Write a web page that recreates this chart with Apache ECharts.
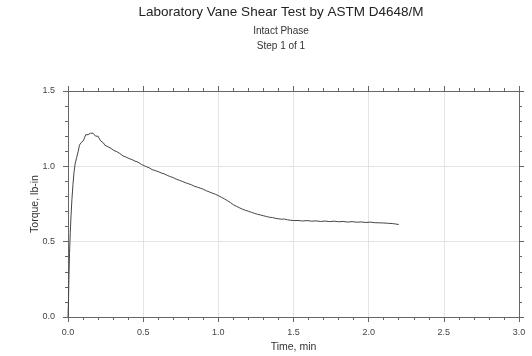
<!DOCTYPE html>
<html>
<head>
<meta charset="utf-8">
<script src="https://cdn.jsdelivr.net/npm/echarts@6/dist/echarts.min.js"></script>
<style>html,body{margin:0;padding:0;background:#fff;}#c{width:532px;height:356px;}</style>
</head>
<body>
<div id="c"></div>
<script>
const titleText = 'Laboratory Vane Shear Test by ASTM D4648/M';
const subtitle1 = 'Intact Phase';
const subtitle2 = 'Step 1 of 1';
const xName = 'Time, min';
const yName = 'Torque, lb-in';
const timeMin = [0.000,0.003,0.006,0.010,0.015,0.020,0.026,0.033,0.040,0.048,0.058,0.068,0.076,0.085,0.094,0.102,0.110,0.118,0.125,0.133,0.141,0.150,0.158,0.166,0.175,0.184,0.192,0.200,0.208,0.216,0.222,0.228,0.236,0.245,0.255,0.265,0.275,0.285,0.295,0.305,0.315,0.325,0.335,0.345,0.355,0.365,0.375,0.385,0.395,0.405,0.415,0.425,0.435,0.445,0.455,0.465,0.475,0.49,0.50,0.52,0.54,0.56,0.58,0.60,0.62,0.64,0.66,0.68,0.70,0.72,0.74,0.76,0.78,0.80,0.82,0.84,0.86,0.88,0.90,0.92,0.94,0.96,0.98,1.00,1.02,1.04,1.06,1.08,1.10,1.12,1.14,1.16,1.18,1.20,1.22,1.24,1.26,1.28,1.30,1.32,1.34,1.36,1.38,1.40,1.42,1.44,1.46,1.48,1.50,1.53,1.56,1.59,1.62,1.65,1.68,1.71,1.74,1.77,1.80,1.83,1.86,1.89,1.92,1.95,1.98,2.01,2.04,2.07,2.10,2.13,2.16,2.18,2.20];
const torque = [0.00,0.10,0.25,0.42,0.56,0.67,0.78,0.88,0.96,1.02,1.06,1.10,1.14,1.155,1.16,1.17,1.19,1.21,1.205,1.21,1.205,1.22,1.215,1.22,1.21,1.20,1.195,1.20,1.185,1.17,1.157,1.17,1.155,1.14,1.135,1.13,1.125,1.12,1.115,1.105,1.10,1.097,1.09,1.085,1.08,1.07,1.072,1.062,1.06,1.052,1.05,1.045,1.04,1.035,1.03,1.028,1.02,1.012,1.005,0.998,0.99,0.978,0.972,0.965,0.956,0.95,0.94,0.932,0.925,0.915,0.908,0.90,0.892,0.885,0.878,0.868,0.862,0.855,0.848,0.838,0.83,0.822,0.815,0.805,0.795,0.784,0.772,0.76,0.745,0.735,0.725,0.716,0.708,0.702,0.695,0.688,0.682,0.677,0.672,0.667,0.662,0.66,0.655,0.652,0.649,0.650,0.645,0.642,0.640,0.641,0.637,0.640,0.636,0.638,0.634,0.637,0.633,0.636,0.632,0.634,0.630,0.633,0.629,0.631,0.627,0.630,0.626,0.625,0.624,0.622,0.620,0.617,0.614];

const FONT = 'Liberation Sans, Arial, sans-serif';
const AX = '#666';
const fmt = v => v.toFixed(1);

function axis(pos, showLabel, name, nameGap, isY) {
  const a = {
    type: 'value', position: pos, min: 0, max: isY ? 1.5 : 3, interval: 0.5,
    axisLine: { show: true, onZero: false, lineStyle: { color: AX, width: 1 } },
    axisTick: { show: true, inside: false, length: 5, lineStyle: { color: AX } },
    minorTick: { show: true, splitNumber: 5, length: 3, lineStyle: { color: AX } },
    axisLabel: { show: showLabel, formatter: fmt, color: '#444', fontSize: 9, fontFamily: FONT, margin: isY ? 13 : 11 },
    splitLine: { show: showLabel, lineStyle: { color: '#e3e3e3', width: 1 } }
  };
  if (name) {
    a.name = name; a.nameLocation = 'middle'; a.nameGap = nameGap; a.nameMoveOverlap = false;
    a.nameTextStyle = { color: '#333', fontSize: 10.5, fontFamily: FONT };
  }
  return a;
}

const chart = echarts.init(document.getElementById('c'), null, { renderer: 'canvas' });
chart.setOption({
  animation: false,
  backgroundColor: '#fff',
  title: [
    { text: titleText, left: 281, top: 5, padding: 0, textAlign: 'center', textStyle: { fontSize: 13.5, fontWeight: 'normal', color: '#222', fontFamily: FONT } },
    { text: subtitle1, left: 281, top: 26.5, padding: 0, textAlign: 'center', textStyle: { fontSize: 10, fontWeight: 'normal', color: '#333', fontFamily: FONT } },
    { text: subtitle2, left: 281, top: 41, padding: 0, textAlign: 'center', textStyle: { fontSize: 10, fontWeight: 'normal', color: '#333', fontFamily: FONT } }
  ],
  grid: { left: 68, right: 13, top: 91, bottom: 39, outerBoundsMode: 'none' },
  xAxis: [
    axis('bottom', true, xName, 24.5, false),
    axis('top', false, null, 0, false)
  ],
  yAxis: [
    axis('left', true, yName, 27.5, true),
    axis('right', false, null, 0, true)
  ],
  series: [{
    type: 'line', xAxisIndex: 0, yAxisIndex: 0,
    data: timeMin.map((t, i) => [t, torque[i]]),
    showSymbol: false, symbol: 'none',
    lineStyle: { color: '#444', width: 1 },
    silent: true
  }]
});
</script>
</body>
</html>
